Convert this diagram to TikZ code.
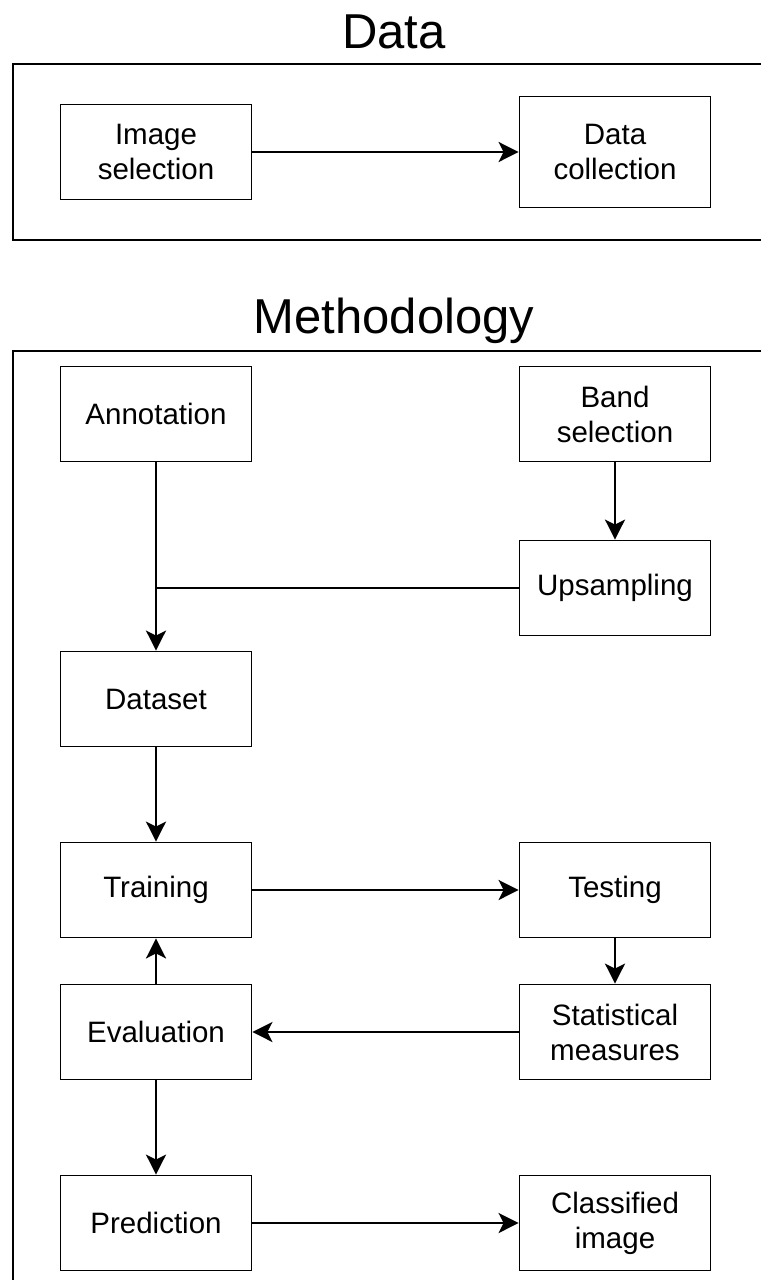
\documentclass[tikz,border=0pt]{standalone}
\usepackage{fontspec}
\setmainfont{Liberation Sans}
\usetikzlibrary{arrows.meta}

\tikzset{
  box/.style={draw, line width=1.8pt, minimum width=191pt, minimum height=95pt,
    inner sep=0pt, align=center, font=\fontsize{29.5}{35}\selectfont},
  title/.style={anchor=base, font=\fontsize{49}{58}\selectfont},
  frame/.style={line width=1.8pt},
  flow/.style={line width=2.6pt, -{Stealth[length=20pt, width=20pt, inset=5pt]}}
}

\begin{document}
\begin{tikzpicture}[x=1pt, y=-1pt]
\useasboundingbox (0,0) rectangle (761,1280);

%% frames and titles
\node[title] (tdata) at (394,48) {Data};
\draw[frame] (761,64) -- (13,64) -- (13,240) -- (761,240);
\node[title] (tmeth) at (394,333) {Methodology};
\draw[frame] (761,351) -- (13,351) -- (13,1280);

%% data boxes
\node[box, minimum height=95pt] (imgsel) at (156,152) {Image\\selection};   %% image selection
\node[box, minimum height=111pt] (datcol) at (615,152) {Data\\collection}; %% data collection

%% methodology boxes
\node[box] (annot) at (156,414) {Annotation};              %% annotation
\node[box] (band) at (615,414) {Band\\selection};          %% band selection
\node[box] (upsam) at (615,588) {Upsampling};              %% upsampling
\node[box] (dset) at (156,699) {Dataset};                  %% dataset
\node[box] (train) at (156,890) {Training};                %% training
\node[box] (test) at (615,890) {Testing};                  %% testing
\node[box] (evalu) at (156,1032) {Evaluation};             %% evaluation
\node[box] (stats) at (615,1032) {Statistical\\measures};  %% statistical measures
\node[box] (pred) at (156,1223) {Prediction};              %% prediction
\node[box] (clsimg) at (615,1223) {Classified\\image};     %% classified image

%%% edges
\coordinate (join) at (annot.south |- upsam.west);
\draw[flow] (imgsel) -- (datcol);      %% image -> data
\draw[flow] (annot) -- (dset);         %% annotation -> dataset
\draw[line width=2.6pt] (upsam.west) -- (join); %% upsampling joins
\draw[flow] (band) -- (upsam);         %% band -> upsampling
\draw[flow] (dset) -- (train);         %% dataset -> training
\draw[flow] (train) -- (test);         %% training -> testing
\draw[flow] (test) -- (stats);         %% testing -> stats
\draw[flow] (stats) -- (evalu);        %% stats -> evaluation
\draw[flow] (evalu) -- (train);        %% evaluation -> training
\draw[flow] (evalu) -- (pred);         %% evaluation -> prediction
\draw[flow] (pred) -- (clsimg);        %% prediction -> classified
\end{tikzpicture}
\end{document}
